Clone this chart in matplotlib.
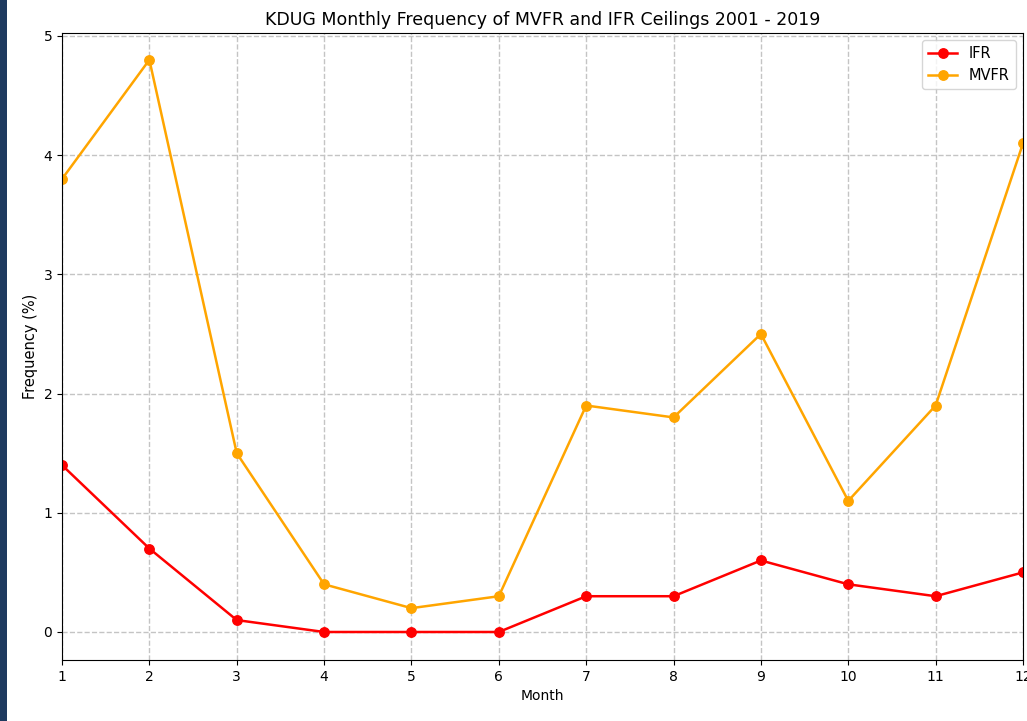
import matplotlib
matplotlib.use("Agg")
import matplotlib.pyplot as plt
from matplotlib.patches import Rectangle

months = [1, 2, 3, 4, 5, 6, 7, 8, 9, 10, 11, 12]
ifr = [1.4, 0.7, 0.1, 0.0, 0.0, 0.0, 0.3, 0.3, 0.6, 0.4, 0.3, 0.5]
mvfr = [3.8, 4.8, 1.5, 0.4, 0.2, 0.3, 1.9, 1.8, 2.5, 1.1, 1.9, 4.1]

W, H = 1027, 721
fig = plt.figure(figsize=(W / 100, H / 100), dpi=100)
ax = fig.add_axes([62 / W, 1 - 660 / H, (1023 - 62) / W, (660 - 33) / H])

# dark side strip
fig.patches.append(Rectangle((0, 0), 7 / W, 1, transform=fig.transFigure,
                             facecolor="#1e3a5f", edgecolor="none", zorder=0))

ax.plot(months, ifr, color="red", marker="o", markersize=6.8, linewidth=1.8, label="IFR")
ax.plot(months, mvfr, color="orange", marker="o", markersize=6.8, linewidth=1.8, label="MVFR")

ax.set_xlim(1, 12)
ax.set_xticks(months)
ax.set_ylim(-0.235, 5.025)
ax.grid(True, linestyle="--", color="#c4c4c4", linewidth=1)
ax.set_axisbelow(True)
ax.tick_params(labelsize=10)
ax.set_xlabel("Month", fontsize=10)
ax.set_ylabel("Frequency (%)", fontsize=10.5)
ax.set_title("KDUG Monthly Frequency of MVFR and IFR Ceilings 2001 - 2019", fontsize=12.5)
ax.legend(loc="upper right", fontsize=10.5)

fig.savefig("out.png", dpi=100)
